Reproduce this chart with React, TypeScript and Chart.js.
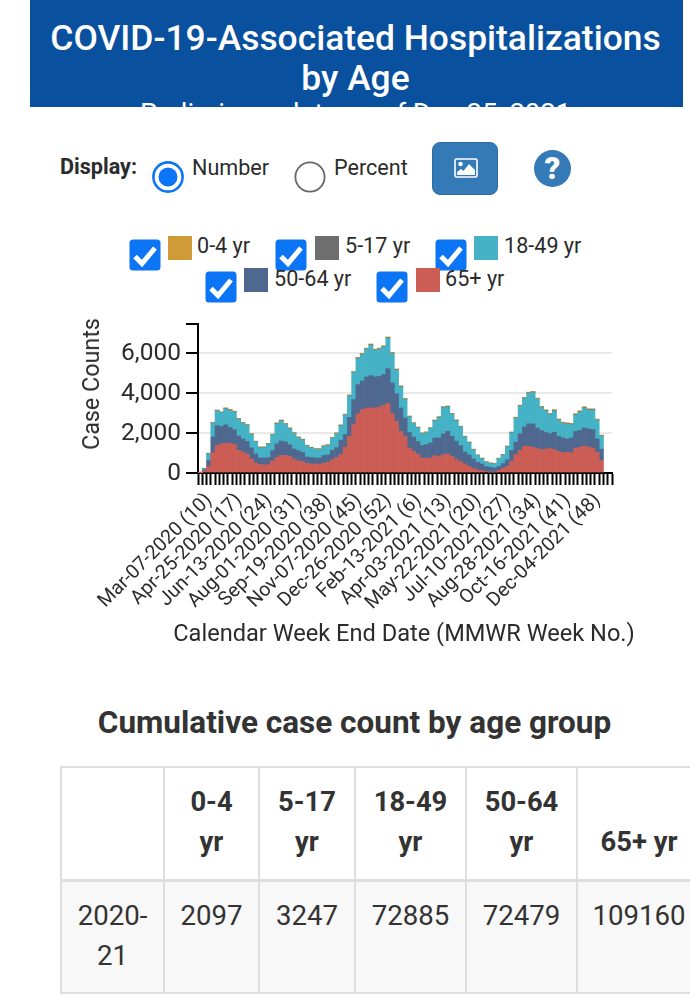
import React, { useEffect, useRef } from "react";
import { Chart, registerables } from "chart.js";

Chart.register(...registerables);

const tickLabels = ["Mar-07-2020 (10)", "Apr-25-2020 (17)", "Jun-13-2020 (24)", "Aug-01-2020 (31)", "Sep-19-2020 (38)", "Nov-07-2020 (45)", "Dec-26-2020 (52)", "Feb-13-2021 (6)", "Apr-03-2021 (13)", "May-22-2021 (20)", "Jul-10-2021 (27)", "Aug-28-2021 (34)", "Oct-16-2021 (41)", "Dec-04-2021 (48)"];
const weekCount = 97;
const categories = Array.from({ length: weekCount }, (_, i) => (i % 7 === 0 ? tickLabels[i / 7] ?? "" : ""));
const yTicks = [0, 2000, 4000, 6000, 7450];

const age65 = [20,100,330,1000,1370,1450,1480,1480,1430,1130,1050,950,700,500,430,400,420,600,780,870,880,830,700,600,580,480,450,450,450,480,530,670,770,920,1300,1830,2420,2950,3170,3250,3250,3250,3300,3370,3470,2970,2580,2080,1830,1250,1080,950,750,750,750,870,830,920,950,830,670,570,450,330,220,150,120,70,50,50,130,220,330,580,920,1130,1330,1330,1280,1220,1170,1200,1220,1170,1070,1020,1030,1000,1230,1280,1350,1300,1250,1030,620];
const age50 = [5,50,300,800,1000,880,930,800,730,720,650,630,550,450,320,350,350,520,680,730,670,580,500,520,450,320,330,300,300,400,380,470,500,720,620,950,1250,1470,1430,1550,1620,1550,1530,1550,1750,1530,1380,1170,920,780,720,630,620,670,750,880,920,1030,1130,1000,920,800,600,580,480,380,330,250,230,200,200,250,330,550,620,830,970,1130,1170,1030,950,830,750,870,770,730,670,750,850,850,900,900,920,670,570];
const age18 = [5,60,320,680,730,680,800,850,880,830,780,800,680,600,520,520,670,780,1000,1000,880,800,780,650,620,550,470,430,430,450,470,600,700,720,970,1070,1350,1300,1320,1380,1520,1330,1350,1380,1520,1470,1180,1050,930,770,680,680,600,600,730,850,1020,1320,1220,1100,1020,930,750,600,450,350,270,220,200,200,380,430,650,880,1200,1370,1420,1520,1570,1430,1150,1070,950,1070,800,730,750,670,830,920,1000,950,980,930,650];
const age5 = [0,10,15,20,20,20,20,20,20,20,20,20,15,15,15,15,15,15,20,20,20,20,15,15,15,15,15,15,15,15,15,15,15,20,20,20,20,25,25,25,25,25,25,25,25,25,25,25,20,20,15,15,15,15,15,20,20,20,20,20,20,15,15,15,15,10,10,10,10,10,10,10,15,15,20,25,25,25,25,25,25,25,25,25,25,25,25,25,25,25,25,25,25,25,20];
const age0 = [0,20,30,35,35,35,35,35,35,35,35,35,30,30,30,30,30,30,35,35,35,35,30,30,30,30,30,30,30,30,30,30,35,35,35,35,40,40,40,40,40,40,40,40,40,40,40,35,35,35,30,30,30,30,30,35,35,35,35,35,35,30,30,30,30,25,25,25,25,25,25,25,30,30,35,40,40,40,40,40,40,40,40,40,40,40,40,40,40,40,40,40,40,40,35];

const seriesNames = ["65+ yr", "50-64 yr", "18-49 yr", "5-17 yr", "0-4 yr"];
const seriesValues = [age65, age50, age18, age5, age0];
const seriesColors = ["#cb5d55", "#4f688f", "#45b2c6", "#6f6f70", "#cf9b37"];

const tableHeaders = [[""], ["0-4", "yr"], ["5-17", "yr"], ["18-49", "yr"], ["50-64", "yr"], ["65+ yr"]];
const tableRow = ["2020-21", "2097", "3247", "72885", "72479", "109160"];
const colLefts = [60, 163, 258, 354, 465, 576, 700];

const font = "Roboto, sans-serif";
const ink = "#2b2b2b";

const pos = (left: number, top: number, extra: React.CSSProperties = {}): React.CSSProperties => ({ position: "absolute", left, top, ...extra });

function Label({ x, cy, text, size = 21.6, weight = 400 }: { x: number; cy: number; text: string; size?: number; weight?: number }) {
  return <div style={pos(x, cy - 15, { height: 30, lineHeight: "30px", fontSize: size, fontWeight: weight, color: ink, whiteSpace: "nowrap" })}>{text}</div>;
}

function Check({ x, y }: { x: number; y: number }) {
  return (
    <svg width={32} height={32} style={pos(x, y)} viewBox="0 0 32 32">
      <rect x={0.5} y={0.5} width={31} height={31} rx={3.5} fill="#0b75f6" />
      <path d="M6 17.5 L13 24.5 L26 9" fill="none" stroke="#fff" strokeWidth={5} />
    </svg>
  );
}

function Radio({ x, y, on }: { x: number; y: number; on: boolean }) {
  return (
    <svg width={32} height={32} style={pos(x, y)} viewBox="0 0 32 32">
      <circle cx={16} cy={16} r={14.6} fill="#fff" stroke={on ? "#0b75f6" : "#666"} strokeWidth={on ? 2.6 : 1.8} />
      {on && <circle cx={16} cy={16} r={9.5} fill="#0b75f6" />}
    </svg>
  );
}

function LegendItem({ cx, cy, sx, sy, tx, ty, color, text }: { cx: number; cy: number; sx: number; sy: number; tx: number; ty: number; color: string; text: string }) {
  return (
    <>
      <div style={pos(sx, sy, { width: 24, height: 24, background: color })} />
      <Label x={tx} cy={ty} text={text} />
      <Check x={cx} y={cy} />
    </>
  );
}

export default function App() {
  const ref = useRef<HTMLCanvasElement>(null);
  useEffect(() => {
    const chart = new Chart(ref.current!, {
      type: "bar",
      data: {
        labels: categories,
        datasets: seriesNames.map((label, i) => ({
          label,
          data: seriesValues[i],
          backgroundColor: seriesColors[i],
          borderWidth: 0,
          barPercentage: 1,
          categoryPercentage: 1,
        })),
      },
      options: {
        responsive: false,
        animation: false,
        layout: { padding: { left: 80, right: 78, top: 24, bottom: 11 } },
        plugins: { legend: { display: false }, tooltip: { enabled: false } },
        scales: {
          x: {
            stacked: true,
            grid: { drawOnChartArea: false, color: "#000", tickColor: "#000", tickWidth: 2, tickLength: 12 },
            border: { color: "#000", width: 2 },
            ticks: {
              autoSkip: false,
              minRotation: 45,
              maxRotation: 45,
              padding: 4,
              labelOffset: 9,
              color: ink,
              font: { family: font, size: 19.6 },
              callback: (_v: any, i: number) => categories[i],
            },
            afterFit: (s: any) => { s.height = 176; },
          },
          y: {
            stacked: true,
            min: 0,
            max: 7450,
            afterBuildTicks: (s: any) => { s.ticks = yTicks.map((value) => ({ value })); },
            grid: {
              color: (c: any) => (c.tick.value > 0 && c.tick.value % 2000 === 0 ? "#e9e9e9" : "transparent"),
              lineWidth: 2,
              tickColor: "#000",
              tickWidth: 2,
              tickLength: 12,
            },
            border: { color: "#000", width: 2 },
            ticks: {
              padding: 5,
              labelOffset: 1,
              color: ink,
              font: { family: font, size: 24.5 },
              callback: (v: any) => (Number(v) % 2000 === 0 ? Number(v).toLocaleString("en-US") : ""),
            },
            afterFit: (s: any) => { s.width = 198 - 80; },
          },
        },
      },
    } as any);
    return () => chart.destroy();
  }, []);

  const th: React.CSSProperties = { position: "absolute", top: 766, height: 113, boxSizing: "border-box", display: "flex", flexDirection: "column", justifyContent: "flex-end", alignItems: "center", textAlign: "center", paddingBottom: 17, borderLeft: "2px solid #dedede", fontSize: 27.4, fontWeight: 700, lineHeight: "40px", color: "#333" };
  const td: React.CSSProperties = { position: "absolute", top: 881, height: 112, boxSizing: "border-box", textAlign: "center", padding: "15px 12px 0", borderLeft: "2px solid #dedede", fontSize: 27.6, lineHeight: "40px", color: "#333", background: "#f8f8f8" };

  return (
    <div style={{ position: "absolute", left: 0, top: 0, width: 690, height: 1008, overflow: "hidden", background: "#fff", fontFamily: font }}>
      <div style={pos(30, 0, { width: 653, height: 107, background: "#09519e", color: "#fff", overflow: "hidden", textAlign: "center" })}>
        <div style={{ fontSize: 35.4, fontWeight: 500, lineHeight: "40px", paddingTop: 18, paddingRight: 2 }}>
          COVID-19-Associated Hospitalizations<br />by Age
        </div>
        <div style={{ fontSize: 27.4, lineHeight: "26px", marginTop: 3, paddingRight: 2, whiteSpace: "nowrap" }}>Preliminary data as of Dec 25, 2021</div>
      </div>

      <Label x={60} cy={167} text="Display:" weight={700} />
      <Radio x={152} y={161} on />
      <Label x={192} cy={168} text="Number" />
      <Radio x={294} y={161} on={false} />
      <Label x={334} cy={168} text="Percent" />
      <div style={pos(432, 142, { width: 66, height: 53, boxSizing: "border-box", background: "#337ab7", border: "1px solid #2e6da4", borderRadius: 8 })} />
      <svg width={24} height={20} style={pos(454, 158)} viewBox="0 0 24 20">
        <rect x={1} y={1} width={22} height={18} rx={1.5} fill="none" stroke="#fff" strokeWidth={1.6} />
        <circle cx={6.5} cy={6} r={2.2} fill="#fff" />
        <path d="M3 17 L3 14 L7 11 L9.5 13 L15 6 L21 12 L21 17 Z" fill="#fff" />
      </svg>
      <div style={pos(534, 149.5, { width: 37, height: 37, borderRadius: "50%", background: "#337ab7", color: "#fff", textAlign: "center", fontSize: 31, fontWeight: 900, lineHeight: "37px" })}>?</div>

      <LegendItem cx={129} cy={239} sx={168} sy={236} tx={197} ty={246} color={seriesColors[4]} text="0-4 yr" />
      <LegendItem cx={275} cy={239} sx={315} sy={236} tx={345} ty={246} color={seriesColors[3]} text="5-17 yr" />
      <LegendItem cx={435} cy={239} sx={474} sy={236} tx={504} ty={246} color={seriesColors[2]} text="18-49 yr" />
      <LegendItem cx={205} cy={271} sx={244} sy={268} tx={274} ty={279} color={seriesColors[1]} text="50-64 yr" />
      <LegendItem cx={376} cy={271} sx={416} sy={268} tx={445} ty={279} color={seriesColors[0]} text="65+ yr" />

      <canvas ref={ref} width={690} height={360} style={pos(0, 300, { display: "block" })} />
      <div style={pos(91, 384, { transform: "translate(-50%, -50%) rotate(-90deg)", fontSize: 23.3, color: ink, whiteSpace: "nowrap" })}>Case Counts</div>
      <div style={pos(404, 633, { transform: "translate(-50%, -50%)", fontSize: 23.6, color: ink, whiteSpace: "nowrap" })}>Calendar Week End Date (MMWR Week No.)</div>

      <div style={pos(0, 703, { width: 709, textAlign: "center", fontSize: 31.5, fontWeight: 700, lineHeight: "40px", color: "#333" })}>Cumulative case count by age group</div>

      <div style={pos(60, 766, { width: 640, height: 2, background: "#dedede", zIndex: 2 })} />
      <div style={pos(60, 879, { width: 640, height: 3, background: "#dedede", zIndex: 2 })} />
      <div style={pos(60, 992, { width: 640, height: 2, background: "#dedede", zIndex: 2 })} />
      {tableHeaders.map((h, i) => (
        <div key={"h" + i} style={{ ...th, left: colLefts[i], width: colLefts[i + 1] - colLefts[i] }}>
          {h.map((line, j) => <div key={j}>{line}</div>)}
        </div>
      ))}
      {tableRow.map((v, i) => (
        <div key={"d" + i} style={{ ...td, left: colLefts[i], width: colLefts[i + 1] - colLefts[i] }}>{v}</div>
      ))}
    </div>
  );
}
